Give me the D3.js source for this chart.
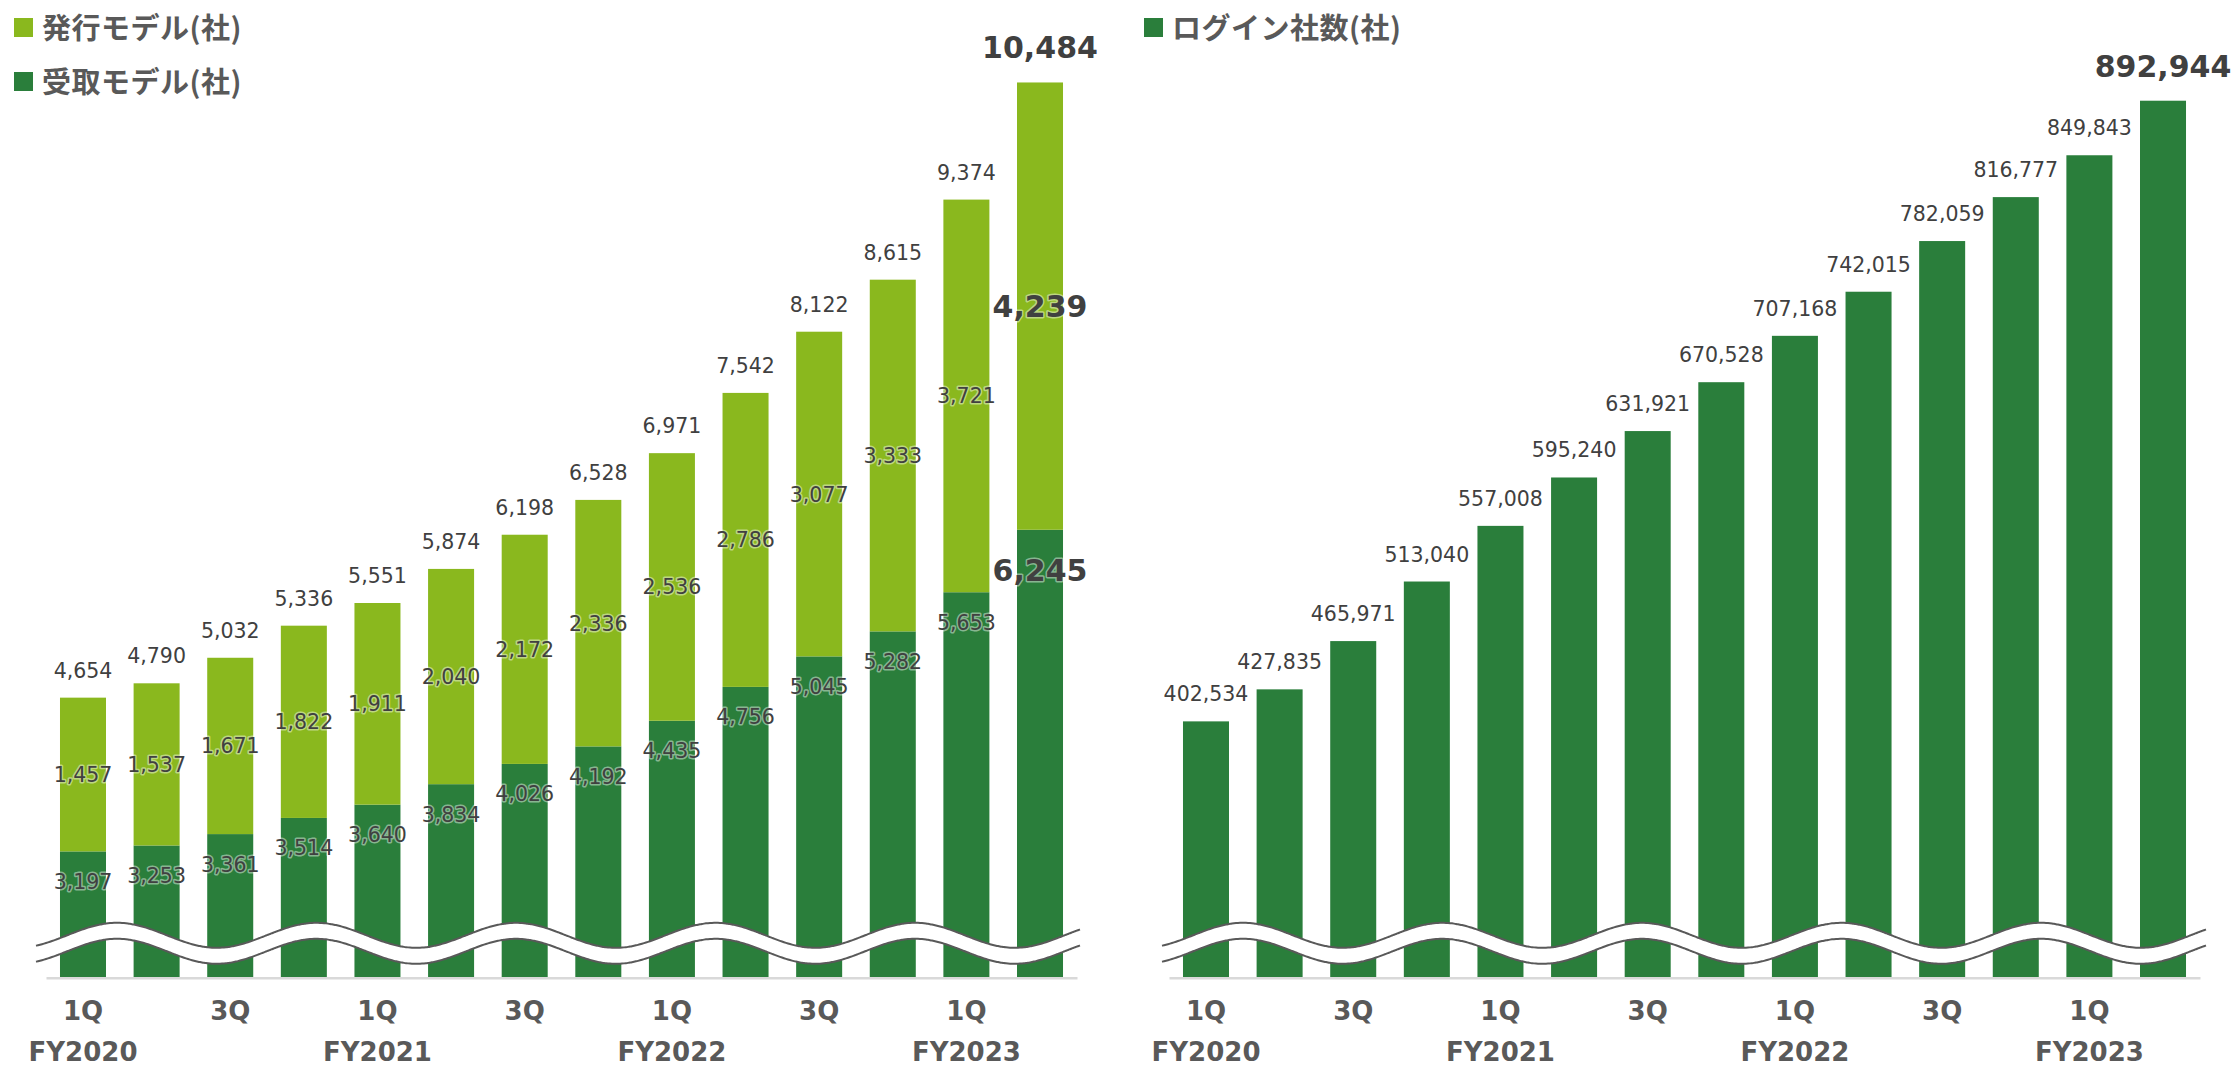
<!DOCTYPE html>
<html>
<head>
<meta charset="utf-8">
<script src="https://cdn.jsdelivr.net/npm/d3@7"></script>
<style>
  html, body { margin: 0; padding: 0; background: #fff; }
  svg { display: block; }
</style>
</head>
<body>
<svg id="chart"></svg>
<script>
const width = 2239;
const height = 1068;

// data
const periods = ['FY2020 1Q', 'FY2020 2Q', 'FY2020 3Q', 'FY2020 4Q',
                 'FY2021 1Q', 'FY2021 2Q', 'FY2021 3Q', 'FY2021 4Q',
                 'FY2022 1Q', 'FY2022 2Q', 'FY2022 3Q', 'FY2022 4Q',
                 'FY2023 1Q', 'FY2023 2Q'];
const fiscalYears = ['FY2020', 'FY2021', 'FY2022', 'FY2023'];
const receivedModel = [3197, 3253, 3361, 3514, 3640, 3834, 4026, 4192, 4435, 4756, 5045, 5282, 5653, 6245];
const issuedModel = [1457, 1537, 1671, 1822, 1911, 2040, 2172, 2336, 2536, 2786, 3077, 3333, 3721, 4239];
const loginCompanies = [402534, 427835, 465971, 513040, 557008, 595240, 631921, 670528, 707168, 742015, 782059, 816777, 849843, 892944];

const LIGHT = '#8ab81e';
const DARK = '#2a7e3b';
const LABEL = '#404040';
const AXIS_TEXT = '#595959';
const baseY = 977.7;
const fmt = d3.format(',');

const svg = d3.select('#chart').attr('width', width).attr('height', height);

const rows = periods.map((p, i) => ({ period: p, received: receivedModel[i], issued: issuedModel[i] }));
const stacked = d3.stack().keys(['received', 'issued'])(rows);

// scales
const xLeft = d3.scaleBand().domain(periods).range([46, 1077]).paddingInner(0.375).paddingOuter(0.19);
const xRight = d3.scaleBand().domain(periods).range([1169, 2200]).paddingInner(0.375).paddingOuter(0.19);
const yLeft = d3.scaleLinear().domain([2000, 11000]).range([baseY, baseY - 9000 * 0.10552]);
const yRight = d3.scaleLinear().domain([200000, 900000]).range([baseY, baseY - 700000 * 0.0012656]);

// ---- left chart: stacked bars
const left = svg.append('g');
left.selectAll('g.series')
    .data(stacked)
    .enter().append('g')
    .attr('class', 'series')
    .attr('fill', d => d.key === 'received' ? DARK : LIGHT)
    .selectAll('rect')
    .data(d => d)
    .enter().append('rect')
    .attr('x', d => xLeft(d.data.period))
    .attr('width', xLeft.bandwidth())
    .attr('y', d => yLeft(d[1]))
    .attr('height', d => yLeft(Math.max(d[0], 2000)) - yLeft(d[1]));

// ---- right chart: bars
const right = svg.append('g');
right.selectAll('rect')
    .data(loginCompanies)
    .enter().append('rect')
    .attr('x', (d, i) => xRight(periods[i]))
    .attr('width', xRight.bandwidth())
    .attr('y', d => yRight(d))
    .attr('height', d => baseY - yRight(d))
    .attr('fill', DARK);

// ---- wavy break marks
function drawBreak(x0, x1) {
    const pts = d3.range(x0, x1 + 0.1, 2);
    const wave = x => 935.3 - 12.5 * Math.cos(2 * Math.PI * (x - x0 - 81) / 199.5);
    const upper = pts.map(x => [x, wave(x)]);
    const lower = pts.map(x => [x, wave(x) + 16]);
    const line = d3.line().curve(d3.curveBasis);
    svg.append('path')
        .attr('d', line(upper) + 'L' + lower.slice().reverse().map(p => p.join(',')).join('L') + 'Z')
        .attr('fill', '#fff');
    [upper, lower].forEach(l => {
        svg.append('path').attr('d', line(l))
            .attr('fill', 'none').attr('stroke', '#595959').attr('stroke-width', 2);
    });
}
drawBreak(36, 1080);
drawBreak(1162, 2206);

// ---- axes
function drawAxis(x) {
    const g = svg.append('g')
        .attr('transform', `translate(0,${baseY})`)
        .call(d3.axisBottom(x)
            .tickSize(0)
            .tickValues(periods.filter((p, i) => i % 2 === 0))
            .tickFormat(d => d.split(' ')[1]));
    g.select('.domain').attr('stroke', '#d9d9d9').attr('stroke-width', 2.5);
    g.selectAll('text')
        .attr('y', 42)
        .attr('dy', null)
        .attr('fill', AXIS_TEXT)
        .style('font-family', '"DejaVu Sans", Verdana, sans-serif')
        .style('font-size', '26px')
        .style('font-weight', 'bold');
    g.selectAll('.fy')
        .data(fiscalYears)
        .enter().append('text')
        .attr('class', 'fy')
        .attr('x', d => x(d + ' 1Q') + x.bandwidth() / 2)
        .attr('y', 83.5)
        .attr('text-anchor', 'middle')
        .attr('fill', AXIS_TEXT)
        .style('font-family', '"DejaVu Sans", Verdana, sans-serif')
        .style('font-size', '26px')
        .style('font-weight', 'bold')
        .text(d => d);
}
drawAxis(xLeft);
drawAxis(xRight);

// ---- data labels
function label(g, x, y, text, bold, halo) {
    const t = g.append('text')
        .attr('x', x).attr('y', y)
        .attr('text-anchor', 'middle')
        .attr('fill', LABEL)
        .style('font-family', '"DejaVu Sans", Verdana, sans-serif')
        .style('font-size', bold ? '30px' : '20.5px')
        .style('font-weight', bold ? 'bold' : 'normal')
        .text(text);
    if (halo) {
        t.attr('stroke', 'rgba(255,255,255,0.45)')
            .attr('stroke-width', 3)
            .attr('stroke-linejoin', 'round')
            .attr('paint-order', 'stroke');
    }
    return t;
}

const labels = svg.append('g');
const last = periods.length - 1;
rows.forEach((r, i) => {
    const cx = xLeft(r.period) + xLeft.bandwidth() / 2;
    const big = i === last;
    const total = r.received + r.issued;
    const topY = yLeft(total);
    const midY = yLeft(stacked[0][i][1]);
    label(labels, cx, topY - (big ? 24 : 20), fmt(total), big, false);
    label(labels, cx, (topY + midY) / 2 + (big ? 11 : 7.5), fmt(r.issued), big, true);
    label(labels, cx, midY + (big ? 51 : 37.5), fmt(r.received), big, true);
});
loginCompanies.forEach((v, i) => {
    const cx = xRight(periods[i]) + xRight.bandwidth() / 2;
    const big = i === last;
    label(labels, cx, yRight(v) - (big ? 24 : 20), fmt(v), big, false);
});

// ---- legends
const legendItems = [
    { x: 14, y: 18, color: LIGHT, text: '発行モデル(社)' },
    { x: 14, y: 72, color: DARK, text: '受取モデル(社)' },
    { x: 1144, y: 18, color: DARK, text: 'ログイン社数(社)' }
];
const legend = svg.append('g');
legend.selectAll('rect')
    .data(legendItems)
    .enter().append('rect')
    .attr('x', d => d.x).attr('y', d => d.y)
    .attr('width', 19).attr('height', 19)
    .attr('fill', d => d.color);
legend.selectAll('text')
    .data(legendItems)
    .enter().append('text')
    .attr('x', d => d.x + 28)
    .attr('y', d => d.y + 20.5)
    .attr('fill', AXIS_TEXT)
    .style('font-family', '"Noto Sans CJK JP", sans-serif')
    .style('font-size', '29px')
    .style('font-weight', 'bold')
    .style('letter-spacing', '0.5px')
    .text(d => d.text);
</script>
</body>
</html>
